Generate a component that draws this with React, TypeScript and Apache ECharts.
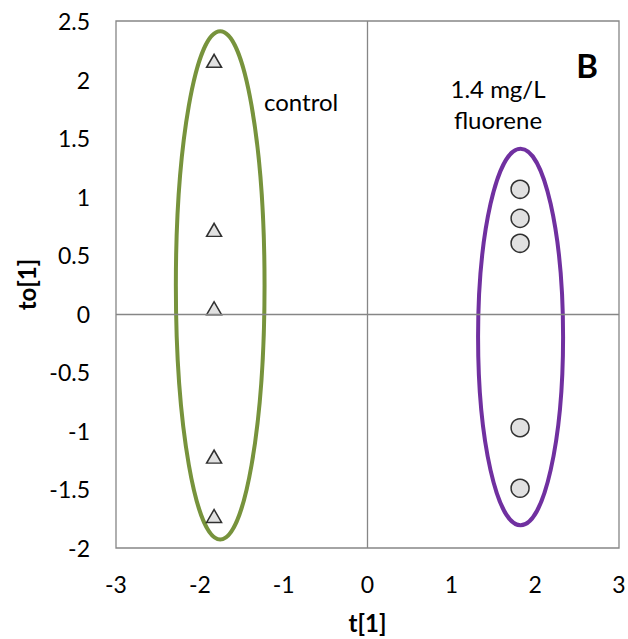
import React, { useEffect, useRef } from "react";
import * as echarts from "echarts";

// Score coordinates t[1] / to[1]
const controlT = [-1.83, -1.83, -1.83, -1.83, -1.83];
const controlTo = [2.16, 0.716, 0.047, -1.22, -1.727];
const fluoreneT = [1.82, 1.82, 1.82, 1.82, 1.82];
const fluoreneTo = [1.063, 0.815, 0.602, -0.973, -1.49];

// Group ellipses: [centre t, centre to, half-width, half-height]
const controlEllipse = [-1.757, 0.243, 0.529, 2.17];
const fluoreneEllipse = [1.826, -0.198, 0.507, 1.608];

const xTicks = [-3, 3, 1];
const yTicks = [-2, 2.5, 0.5];

const FONT = "Lato, 'Open Sans', sans-serif";

export default function App() {
  const ref = useRef<HTMLDivElement>(null);

  useEffect(() => {
    if (!ref.current) return;
    const chart = echarts.init(ref.current, undefined, { renderer: "svg" });

    const ellipseSeries = (params: number[], color: string) => ({
      type: "custom",
      silent: true,
      z: 1,
      data: [params],
      encode: { x: 0, y: 1 },
      renderItem: (_p: any, api: any) => {
        const c = api.coord([api.value(0), api.value(1)]);
        const s = api.size([api.value(2), api.value(3)]);
        return {
          type: "ellipse",
          shape: { cx: c[0], cy: c[1], rx: s[0], ry: s[1] },
          style: { fill: "none", stroke: color, lineWidth: 4 },
        };
      },
    });

    const axisLabel = { color: "#000", fontSize: 23, fontFamily: FONT };
    const nameStyle = { color: "#000", fontSize: 24, fontWeight: "bold", fontFamily: FONT };

    chart.setOption({
      animation: false,
      backgroundColor: "#fff",
      grid: {
        left: 116,
        top: 21,
        right: 9,
        bottom: 91,
        outerBoundsMode: "none",
        containLabel: false,
        show: true,
        borderColor: "#868686",
        borderWidth: 1.3,
      },
      xAxis: {
        type: "value",
        min: xTicks[0],
        max: xTicks[1],
        interval: xTicks[2],
        name: "t[1]",
        nameLocation: "middle",
        nameGap: 62,
        nameTextStyle: nameStyle,
        axisLine: { show: false },
        axisTick: { show: false },
        splitLine: { show: false },
        axisLabel: { ...axisLabel, margin: 24 },
      },
      yAxis: {
        type: "value",
        min: yTicks[0],
        max: yTicks[1],
        interval: yTicks[2],
        name: "to[1]",
        nameLocation: "middle",
        nameGap: 78,
        nameTextStyle: nameStyle,
        axisLine: { show: false },
        axisTick: { show: false },
        splitLine: { show: false },
        axisLabel: { ...axisLabel, margin: 26 },
      },
      series: [
        ellipseSeries(controlEllipse, "#77933C"),
        ellipseSeries(fluoreneEllipse, "#7030A0"),
        {
          type: "scatter",
          name: "control",
          z: 3,
          symbol: "triangle",
          symbolSize: [15, 13],
          itemStyle: { color: "#D9D9D9", borderColor: "#000", borderWidth: 1.5 },
          data: controlT.map((t, i) => [t, controlTo[i]]),
          markLine: {
            silent: true,
            symbol: "none",
            label: { show: false },
            lineStyle: { color: "#868686", width: 1.3, type: "solid" },
            data: [{ xAxis: 0 }, { yAxis: 0 }],
          },
        },
        {
          type: "scatter",
          name: "1.4 mg/L fluorene",
          z: 3,
          symbol: "circle",
          symbolSize: 18,
          itemStyle: { color: "#D9D9D9", borderColor: "#000", borderWidth: 1.5 },
          data: fluoreneT.map((t, i) => [t, fluoreneTo[i]]),
        },
      ],
      graphic: [
        {
          type: "text",
          x: 264,
          y: 101,
          style: {
            text: "control",
            fill: "#000",
            font: `24px ${FONT}`,
            textVerticalAlign: "middle",
          },
        },
        {
          type: "text",
          x: 498,
          y: 104,
          style: {
            text: "1.4 mg/L\nfluorene",
            fill: "#000",
            font: `24px ${FONT}`,
            textAlign: "center",
            textVerticalAlign: "middle",
            lineHeight: 31,
          },
        },
        {
          type: "text",
          x: 587,
          y: 65,
          style: {
            text: "B",
            fill: "#000",
            font: `bold 33px ${FONT}`,
            textAlign: "center",
            textVerticalAlign: "middle",
          },
        },
      ],
    });

    return () => chart.dispose();
  }, []);

  return (
    <div
      ref={ref}
      style={{ position: "fixed", left: 0, top: 0, width: 628, height: 639 }}
    />
  );
}
